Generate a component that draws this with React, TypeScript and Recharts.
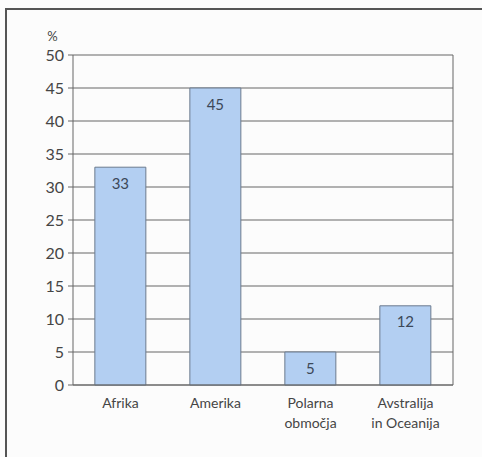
import React from "react";
import {
  BarChart,
  Bar,
  XAxis,
  YAxis,
  CartesianGrid,
  LabelList,
} from "recharts";

const categories = ["Afrika", "Amerika", "Polarna\nobmočja", "Avstralija\nin Oceanija"];
const shares = [33, 45, 5, 12];
const yTicks = [0, 5, 10, 15, 20, 25, 30, 35, 40, 45, 50];

const data = categories.map((name, i) => ({ name, value: shares[i] }));

const FONT = "Lato, 'DejaVu Sans', sans-serif";
const TEXT = "#454545";

function CategoryTick(props: any) {
  const { x, y, payload } = props;
  const lines = String(payload.value).split("\n");
  return (
    <text x={x} y={y} textAnchor="middle" fill={TEXT} fontSize={14} fontFamily={FONT}>
      {lines.map((line: string, i: number) => (
        <tspan key={i} x={x} dy={i === 0 ? 15 : 20}>
          {line}
        </tspan>
      ))}
    </text>
  );
}

export default function App() {
  return (
    <div
      style={{
        position: "absolute",
        left: 0,
        top: 0,
        width: 482,
        height: 457,
        overflow: "hidden",
        background: "#fcfcfc",
      }}
    >
      <div
        style={{
          position: "absolute",
          left: 5,
          top: 8,
          width: 520,
          height: 520,
          borderLeft: "2px solid #555",
          borderTop: "2px solid #555",
        }}
      />
      <div style={{ position: "absolute", left: 0, top: 0 }}>
        <BarChart
          width={482}
          height={457}
          data={data}
          margin={{ top: 55, right: 28, bottom: 22, left: 0 }}
          barCategoryGap="23%"
        >
          <CartesianGrid vertical={false} stroke="#666" strokeWidth={1} />
          <XAxis
            dataKey="name"
            interval={0}
            height={50}
            tickLine={false}
            axisLine={{ stroke: "#666" }}
            tick={<CategoryTick />}
          />
          <YAxis
            domain={[0, 50]}
            ticks={yTicks}
            width={73}
            tickSize={5}
            tickMargin={4}
            tickLine={{ stroke: "#666" }}
            axisLine={{ stroke: "#666" }}
            tick={{ fill: TEXT, fontSize: 16, fontFamily: FONT }}
            label={{
              value: "%",
              position: "top",
              offset: 14,
              dx: 16,
              fill: TEXT,
              fontSize: 13,
              fontFamily: FONT,
            }}
          />
          <YAxis
            yAxisId="frame"
            orientation="right"
            domain={[0, 50]}
            width={1}
            tick={false}
            tickLine={false}
            axisLine={{ stroke: "#666" }}
          />
          <Bar
            dataKey="value"
            fill="#b3cff2"
            stroke="#6b7a8e"
            strokeWidth={1}
            isAnimationActive={false}
          >
            <LabelList
              dataKey="value"
              position="insideTop"
              offset={11}
              fill="#3c4858"
              fontSize={15}
              fontFamily={FONT}
            />
          </Bar>
        </BarChart>
      </div>
    </div>
  );
}
